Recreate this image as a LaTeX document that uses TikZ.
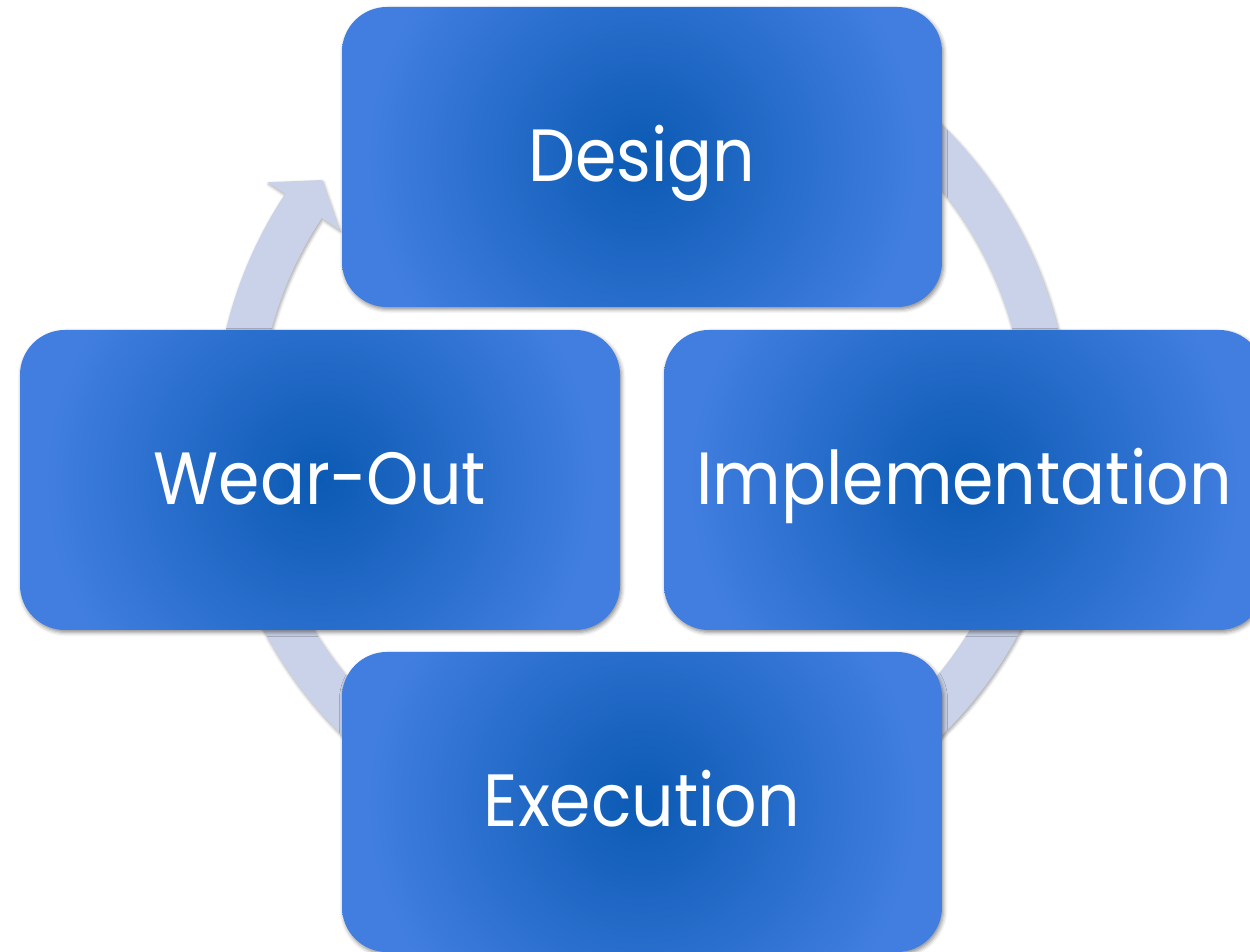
\documentclass[tikz,border=0pt]{standalone}
\usepackage{fontspec}
\setmainfont{Poppins}[FakeStretch=0.9]
\usetikzlibrary{calc,shadows.blur}
\definecolor{bxdark}{HTML}{0B5AB3}
\definecolor{bxlight}{HTML}{417EE0}
\definecolor{ringfill}{HTML}{C9D2E8}
% glow: dark core fading to the lighter rim
\pgfdeclareradialshading{stageglow}{\pgfpoint{0bp}{0bp}}{%
  color(0bp)=(bxdark); color(23bp)=(bxlight); color(50bp)=(bxlight)}
\begin{document}
\begin{tikzpicture}[x=1pt,y=1pt,
  stage/.style={rounded corners=45pt, minimum width=600pt, minimum height=300pt,
    inner sep=0pt, text=white, font=\fontsize{74}{88}\selectfont,
    text height=53pt, text depth=4pt,
    blur shadow={shadow xshift=1.5pt, shadow yshift=-2.5pt,
      shadow blur radius=4pt, shadow opacity=45},
    path picture={\shade[shading=stageglow]
      ([shift={(-300pt,-300pt)}]path picture bounding box.center)
      rectangle ([shift={(300pt,300pt)}]path picture bounding box.center);}},
  cyclering/.style={fill=ringfill,
    blur shadow={shadow xshift=1pt, shadow yshift=-2pt,
      shadow blur radius=3pt, shadow opacity=35}}
  ]
\useasboundingbox (0,0) rectangle (1250,952);
\clip (0,0) rectangle (1250,952);

% circular arrow running clockwise behind the four stages
\coordinate (hub) at (642,522);
\path[cyclering]
  ($(hub)+(70:428)$) arc[start angle=70, end angle=-213.5, radius=428]
  -- ($(hub)+(146.5:449)$)
  -- ($(hub)+(142:406)$)
  -- ($(hub)+(146.5:363)$)
  -- ($(hub)+(146.5:384)$)
  arc[start angle=-213.5, end angle=70, radius=384]
  -- cycle;

% the four stages
\node[stage] (design) at (642,795) {Design};
\node[stage] (wearout) at (320,472) {Wear-Out};
\node[stage] (impl) at (964,472) {Implementation};
\node[stage] (exec) at (642,150) {Execution};
\end{tikzpicture}
\end{document}
